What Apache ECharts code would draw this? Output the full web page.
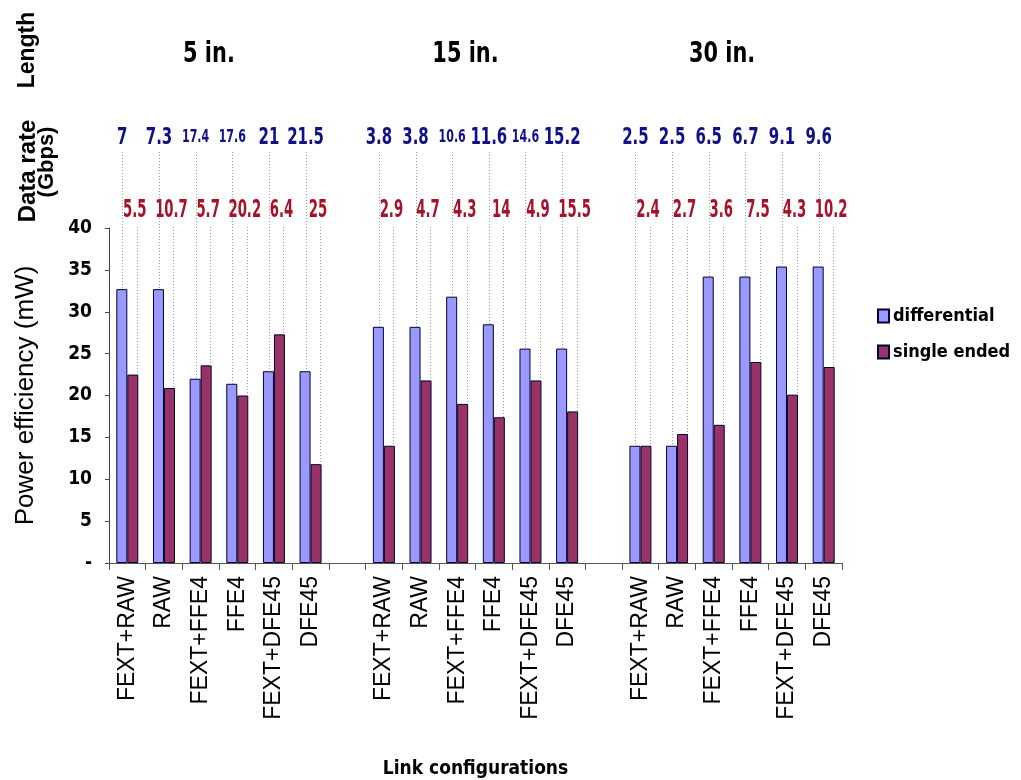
<!DOCTYPE html>
<html>
<head>
<meta charset="utf-8">
<script src="https://cdn.jsdelivr.net/npm/echarts@6/dist/echarts.min.js"></script>
<style>
  html, body { margin: 0; padding: 0; background: #fff; }
  #chart { width: 1021px; height: 780px; }
</style>
</head>
<body>
<div id="chart"></div>
<script>
// Link configurations evaluated for each trace length
const lengths = ['5 in.', '15 in.', '30 in.'];
const configs = ['FEXT+RAW', 'RAW', 'FEXT+FFE4', 'FFE4', 'FEXT+DFE45', 'DFE45'];

// Power efficiency (mW) per length group
const differential = [
  [32.7, 32.7, 22.0, 21.4, 22.9, 22.9],
  [28.2, 28.2, 31.8, 28.5, 25.6, 25.6],
  [14.0, 14.0, 34.2, 34.2, 35.4, 35.4]
];
const singleEnded = [
  [22.5, 20.9, 23.6, 20.0, 27.3, 11.8],
  [14.0, 21.8, 19.0, 17.4, 21.8, 18.1],
  [14.0, 15.4, 16.5, 24.0, 20.1, 23.4]
];

// Achieved data rate (Gbps) per length group
const rateDifferential = [
  [7, 7.3, 17.4, 17.6, 21, 21.5],
  [3.8, 3.8, 10.6, 11.6, 14.6, 15.2],
  [2.5, 2.5, 6.5, 6.7, 9.1, 9.6]
];
const rateSingleEnded = [
  [5.5, 10.7, 5.7, 20.2, 6.4, 25],
  [2.9, 4.7, 4.3, 14, 4.9, 15.5],
  [2.4, 2.7, 3.6, 7.5, 4.3, 10.2]
];

const yTicks = [0, 5, 10, 15, 20, 25, 30, 35, 40];

// ---- build category axis with an empty slot between groups ----
const categories = [];
const diffData = [];
const seData = [];
const rateMarks = [];
const groupSpans = [];
lengths.forEach((len, g) => {
  if (g > 0) { categories.push(''); diffData.push('-'); seData.push('-'); }
  const start = categories.length;
  configs.forEach((c, i) => {
    const idx = categories.length;
    categories.push(c);
    diffData.push(differential[g][i]);
    seData.push(singleEnded[g][i]);
    rateMarks.push([idx, differential[g][i], rateDifferential[g][i], 0]);
    rateMarks.push([idx, singleEnded[g][i], rateSingleEnded[g][i], 1]);
  });
  groupSpans.push([start, categories.length - 1, g]);
});

const BAR_W = 11;
const COND = '"DejaVu Sans Condensed", "DejaVu Sans", sans-serif';
const BOLD = '"DejaVu Sans", sans-serif';
const SANS = '"Liberation Sans", Arial, sans-serif';
const compactRates = new Set(['17.4', '17.6', '10.6', '14.6']);

const chart = echarts.init(document.getElementById('chart'), null, { renderer: 'canvas' });

chart.setOption({
  animation: false,
  backgroundColor: '#ffffff',
  grid: { left: 109, right: 179, top: 228, bottom: 217, containLabel: false },
  legend: {
    orient: 'vertical',
    left: 877,
    top: 307,
    padding: 0,
    itemWidth: 11,
    itemHeight: 13,
    itemGap: 18,
    icon: 'rect',
    data: ['differential', 'single ended'],
    textStyle: { fontFamily: COND, fontWeight: 'bold', fontSize: 18, color: '#000', padding: [0, 0, 0, -1] }
  },
  xAxis: {
    type: 'category',
    data: categories,
    name: 'Link configurations',
    nameLocation: 'middle',
    nameGap: 197,
    nameTextStyle: { fontFamily: COND, fontWeight: 'bold', fontSize: 19, color: '#000' },
    axisLine: { lineStyle: { color: '#555', width: 1 } },
    axisTick: { show: true, length: 7, interval: 0, lineStyle: { color: '#555' } },
    axisLabel: {
      interval: 0,
      rotate: 90,
      margin: 13,
      fontFamily: SANS,
      fontSize: 23,
      color: '#000'
    }
  },
  yAxis: {
    type: 'value',
    min: 0,
    max: 40,
    interval: 5,
    name: 'Power efficiency (mW)',
    nameLocation: 'middle',
    nameGap: 70,
    nameRotate: 90,
    nameTextStyle: { fontFamily: SANS, fontSize: 26, color: '#000' },
    splitLine: { show: false },
    axisLine: { show: true, lineStyle: { color: '#444', width: 1 } },
    axisTick: { show: true, length: 4, lineStyle: { color: '#444' } },
    axisLabel: {
      margin: 17,
      fontFamily: COND,
      fontWeight: 'bold',
      fontSize: 19,
      color: '#000',
      formatter: v => (yTicks.indexOf(v) === -1 ? '' : (v === 0 ? '-' : String(v)))
    }
  },
  series: [
    {
      name: 'differential',
      type: 'bar',
      data: diffData,
      barWidth: BAR_W,
      barGap: '0%',
      itemStyle: { color: '#9999FF', borderColor: '#000033', borderWidth: 1 }
    },
    {
      name: 'single ended',
      type: 'bar',
      data: seData,
      barWidth: BAR_W,
      barGap: '0%',
      itemStyle: { color: '#993366', borderColor: '#000033', borderWidth: 1 }
    },
    {
      // data-rate annotations with leader lines down to each bar
      type: 'custom',
      silent: true,
      clip: false,
      z: 5,
      data: rateMarks,
      encode: { x: 0, y: 1 },
      renderItem: (params, api) => {
        const idx = api.value(0);
        const val = api.value(1);
        const rate = api.value(2);
        const s = api.value(3);
        const top = api.coord([idx, val]);
        const x = top[0] + (s === 0 ? -BAR_W / 2 + 0.5 : BAR_W / 2 + 4);
        const lineStart = s === 0 ? 152 : 227;
        const labelY = s === 0 ? 138 : 210;
        const txt = String(rate);
        const small = s === 0 && compactRates.has(txt);
        return {
          type: 'group',
          children: [
            {
              type: 'line',
              shape: { x1: Math.round(x) + 0.5, y1: lineStart, x2: Math.round(x) + 0.5, y2: top[1] },
              style: { stroke: '#9a9a9a', lineWidth: 1, lineDash: [1, 2] }
            },
            {
              type: 'text',
              x: x - (s === 0 ? 0 : 2),
              y: labelY,
              scaleX: s === 0 ? 0.65 : 0.53,
              style: {
                text: txt,
                align: 'center',
                verticalAlign: 'middle',
                fill: s === 0 ? '#10108A' : '#A5122A',
                fontFamily: BOLD,
                fontWeight: 'bold',
                fontSize: s === 0 ? (small ? 17 : 23) : 25
              }
            }
          ]
        };
      }
    },
    {
      // trace length heading above each group
      type: 'custom',
      silent: true,
      clip: false,
      data: groupSpans,
      encode: { x: 0 },
      renderItem: (params, api) => {
        const a = api.coord([api.value(0), 0]);
        const b = api.coord([api.value(1), 0]);
        return {
          type: 'text',
          x: (a[0] + b[0]) / 2 - 10,
          y: 54,
          scaleX: 0.72,
          style: {
            text: lengths[api.value(2)],
            align: 'center',
            verticalAlign: 'middle',
            fill: '#000',
            fontFamily: BOLD,
            fontWeight: 'bold',
            fontSize: 29
          }
        };
      }
    }
  ],
  graphic: [
    {
      type: 'text', x: 28, y: 50, rotation: Math.PI / 2,
      style: { text: 'Length', align: 'center', verticalAlign: 'middle', fill: '#000',
               fontFamily: SANS, fontWeight: 'bold', fontSize: 23 }
    },
    {
      type: 'text', x: 28, y: 171, rotation: Math.PI / 2,
      style: { text: 'Data rate', align: 'center', verticalAlign: 'middle', fill: '#000',
               fontFamily: SANS, fontWeight: 'bold', fontSize: 24 }
    },
    {
      type: 'text', x: 47, y: 162, rotation: Math.PI / 2,
      style: { text: '(Gbps)', align: 'center', verticalAlign: 'middle', fill: '#000',
               fontFamily: SANS, fontWeight: 'bold', fontSize: 22 }
    }
  ]
});
</script>
</body>
</html>
